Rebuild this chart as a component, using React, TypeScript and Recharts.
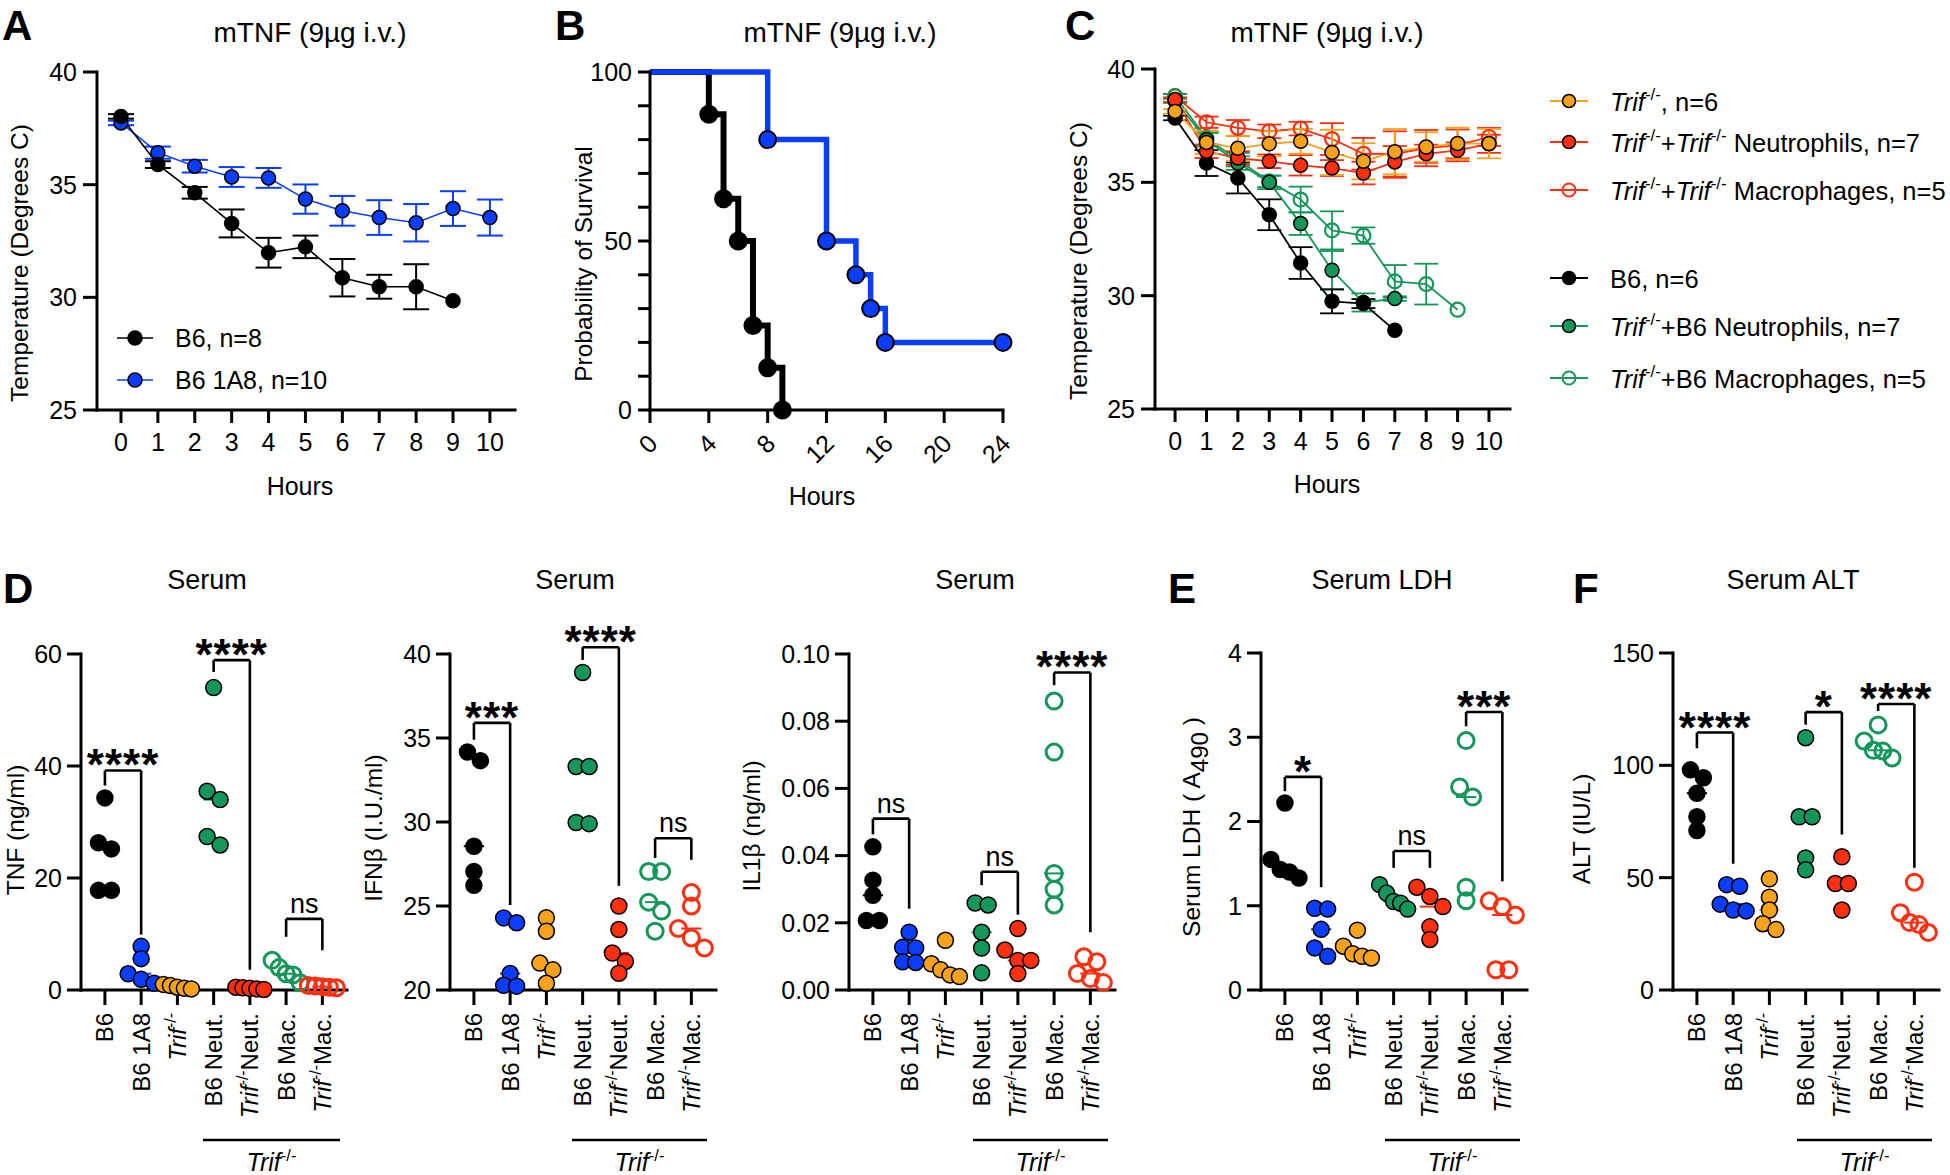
import React from "react";
import { LineChart, Line, XAxis, YAxis, ErrorBar, ScatterChart, Scatter, ReferenceLine } from "recharts";

const FONT = "'Liberation Sans', Arial, Helvetica, sans-serif";
const BLACK = "#000000";
const BLUE = "#0b3dff";
const ORANGE = "#f7a21b";
const RED = "#ff2f0f";
const GREEN = "#15965a";

// ---------- A: temperature, B6 vs B6 1A8 ----------
const hoursA = [0, 1, 2, 3, 4, 5, 6, 7, 8, 9, 10];
const b6TempA = [38.03, 35.89, 34.64, 33.28, 31.98, 32.24, 30.87, 30.47, 30.47, 29.85];
const b6ErrA = [0.1, 0.15, 0.26, 0.62, 0.66, 0.5, 0.83, 0.53, 1.0, 0];
const a8TempA = [37.74, 36.42, 35.82, 35.34, 35.3, 34.36, 33.84, 33.54, 33.31, 33.94, 33.54];
const a8ErrA = [0.1, 0.27, 0.28, 0.44, 0.44, 0.65, 0.66, 0.77, 0.83, 0.77, 0.8];

// ---------- B: survival ----------
const b6SurvHours = [0, 4, 5, 6, 7, 8, 9];
const b6Surv = [100, 87.5, 62.5, 50, 25, 12.5, 0];
const a8SurvHours = [0, 8, 12, 14, 15, 16, 24];
const a8Surv = [100, 80, 50, 40, 30, 20, 20];
const survTicksX = [0, 4, 8, 12, 16, 20, 24];
const survTicksY = [0, 10, 20, 30, 40, 50, 60, 70, 80, 90, 100];

// ---------- C: temperature, transfers ----------
const hoursC = [0, 1, 2, 3, 4, 5, 6, 7, 8, 9, 10];
const b6TempC = [37.84, 35.85, 35.19, 33.57, 31.44, 29.75, 29.65, 28.47];
const b6ErrC = [0.1, 0.57, 0.68, 0.68, 0.7, 0.53, 0.2, 0];
const b6NeutTempC = [38.6, 36.88, 35.85, 35.0, 33.18, 31.12, 29.7, 29.87];
const b6NeutErrC = [0.1, 0.3, 0.3, 0.3, 0.5, 0.85, 0.4, 0.1];
const b6MacTempC = [38.8, 36.95, 36.0, 35.04, 34.24, 32.88, 32.65, 30.63, 30.51, 29.38];
const b6MacErrC = [0.1, 0.3, 0.3, 0.25, 0.57, 0.84, 0.36, 0.72, 0.9, 0];
const trifTempC = [38.13, 36.76, 36.5, 36.7, 36.81, 36.32, 35.93, 36.35, 36.56, 36.71, 36.71];
const trifErrC = [0.1, 0.5, 0.55, 0.55, 0.55, 1.0, 0.8, 1.0, 0.65, 0.7, 0.65];
const trifNeutTempC = [38.65, 36.37, 36.07, 35.93, 35.75, 35.63, 35.41, 35.9, 36.26, 36.41, 36.7];
const trifNeutErrC = [0.1, 0.3, 0.3, 0.3, 0.45, 0.35, 0.5, 0.7, 0.4, 0.35, 0.4];
const trifMacTempC = [38.8, 37.65, 37.4, 37.25, 37.37, 36.91, 36.26, 36.25, 36.51, 36.63, 37.0];
const trifMacErrC = [0.1, 0.25, 0.35, 0.3, 0.3, 0.7, 0.7, 1.0, 0.8, 0.7, 0.4];

// ---------- D/E/F: dot plots ----------
const cats = ["B6", "B6 1A8", "Trif-/-", "B6 Neut.", "Trif-/-Neut.", "B6 Mac.", "Trif-/-Mac."];

const tnf = [
  [34.3, 26.3, 25.2, 17.8, 17.8],
  [7.8, 5.6, 2.9, 1.9, 1.2],
  [1.0, 0.8, 0.5, 0.3, 0.2],
  [54.0, 35.5, 34.0, 27.4, 25.9],
  [0.5, 0.4, 0.3, 0.2, 0.1],
  [5.3, 4.0, 2.9, 2.7, 1.3],
  [0.8, 0.7, 0.6, 0.5, 0.4],
];
const ifn = [
  [34.17, 33.65, 28.56, 27.05, 26.23],
  [24.29, 24.0, 20.98, 20.28, 20.23],
  [24.3, 23.5, 21.6, 21.2, 20.4],
  [38.9, 33.3, 33.3, 29.97, 29.9],
  [25.0, 23.6, 22.2, 21.7, 21.0],
  [27.05, 27.05, 25.23, 24.7, 23.5],
  [25.8, 25.0, 23.66, 23.1, 22.5],
];
const il1 = [
  [0.0426, 0.0327, 0.0282, 0.0207, 0.0207],
  [0.0172, 0.0127, 0.0125, 0.0084, 0.0082],
  [0.0148, 0.0078, 0.006, 0.0045, 0.004],
  [0.0259, 0.0253, 0.0172, 0.0125, 0.0051],
  [0.0183, 0.0119, 0.0088, 0.0088, 0.0049],
  [0.086, 0.0708, 0.0347, 0.03, 0.0253],
  [0.0099, 0.0084, 0.0049, 0.0034, 0.0022],
];
const ldh = [
  [2.22, 1.55, 1.43, 1.4, 1.33],
  [0.97, 0.96, 0.72, 0.5, 0.4],
  [0.71, 0.52, 0.43, 0.4, 0.38],
  [1.25, 1.15, 1.05, 1.03, 0.96],
  [1.22, 1.11, 0.99, 0.75, 0.6],
  [2.96, 2.41, 2.29, 1.22, 1.06],
  [1.06, 0.99, 0.89, 0.24, 0.24],
];
const alt = [
  [98.0, 94.5, 87.6, 77.1, 71.0],
  [46.9, 46.2, 38.2, 35.6, 35.2],
  [49.5, 41.3, 35.6, 29.5, 26.9],
  [112.3, 77.1, 77.1, 58.8, 53.5],
  [59.3, 47.4, 47.4, 35.6],
  [118, 110.8, 106.7, 106.4, 103.3],
  [48, 34.4, 30.0, 29.1, 25.6],
];

// [groupA, groupB, top, left leg end, right leg end, label]
type Bracket = [number, number, number, number, number, string];
const tnfBrackets: Bracket[] = [[0, 1, 39.2, 36.5, 9.9, "****"], [3, 4, 58.9, 56.8, 3.6, "****"], [5, 6, 12.7, 9.5, 7.1, "ns"]];
const ifnBrackets: Bracket[] = [[0, 1, 35.9, 34.9, 25.06, "***"], [3, 4, 40.4, 39.65, 26.2, "****"], [5, 6, 29.03, 27.86, 27.75, "ns"]];
const il1Brackets: Bracket[] = [[0, 1, 0.051, 0.0463, 0.0242, "ns"], [3, 4, 0.0352, 0.0312, 0.0224, "ns"], [5, 6, 0.0945, 0.0907, 0.0172, "****"]];
const ldhBrackets: Bracket[] = [[0, 1, 2.53, 2.36, 1.22, "*"], [3, 4, 1.65, 1.45, 1.45, "ns"], [5, 6, 3.3, 3.13, 1.29, "***"]];
const altBrackets: Bracket[] = [[0, 1, 114.6, 107.6, 56.2, "****"], [3, 4, 123.7, 118.1, 69.2, "*"], [5, 6, 127.3, 124.2, 54.4, "****"]];

const groupStyle = [
  { color: BLACK, open: false },
  { color: BLUE, open: false },
  { color: ORANGE, open: false },
  { color: GREEN, open: false },
  { color: RED, open: false },
  { color: GREEN, open: true },
  { color: RED, open: true },
];

// ---------- layout helpers ----------
const YW = 40;
const XH = 30;
const PL = 100;
const PT = 70;
type Plot = { x0: number; y0: number; x1: number; y1: number };

function frame(p: Plot, padR: number, padB: number) {
  return {
    style: { position: "absolute" as const, left: p.x0 - PL, top: p.y0 - PT },
    width: p.x1 - p.x0 + PL + padR,
    height: p.y1 - p.y0 + PT + padB,
    margin: { left: PL - YW, top: PT, right: padR, bottom: padB - XH },
  };
}

const axisLine = { stroke: BLACK, strokeWidth: 3, strokeLinecap: "square" as const };
const tickLine = { stroke: BLACK, strokeWidth: 3 };
const tickFont = { fontSize: 25, fill: BLACK };

function rich(text: string, size: number) {
  const parts = text.split("Trif-/-");
  const out: React.ReactNode[] = [];
  parts.forEach((p, i) => {
    if (i > 0) {
      out.push(<tspan key={"t" + i} fontStyle="italic">Trif</tspan>);
      out.push(<tspan key={"s" + i} fontSize={size * 0.66} dy={-size * 0.42}>-/-</tspan>);
      if (p) out.push(<tspan key={"r" + i} dy={size * 0.42}>{p}</tspan>);
    } else if (p) {
      out.push(<tspan key={"p" + i}>{p}</tspan>);
    }
  });
  return out;
}

const median = (v: number[]) => {
  const s = [...v].sort((a, b) => a - b);
  const m = Math.floor(s.length / 2);
  return s.length % 2 ? s[m] : (s[m - 1] + s[m]) / 2;
};

// simple beeswarm: points closer than ~11px vertically share a row and spread sideways
function swarm(vals: number[], pxPerUnit: number, catPx: number) {
  const order = vals.map((_, i) => i).sort((a, b) => vals[b] - vals[a]);
  const offs = new Array(vals.length).fill(0);
  let row: number[] = [];
  const flush = () => {
    const n = row.length;
    const step = n > 1 ? Math.min(13, 28 / (n - 1)) : 0;
    row.forEach((k, j) => {
      offs[k] = ((j - (n - 1) / 2) * step) / catPx;
    });
    row = [];
  };
  order.forEach((k) => {
    if (row.length && (vals[row[row.length - 1]] - vals[k]) * pxPerUnit >= 11) flush();
    row.push(k);
  });
  flush();
  return offs;
}

function CatTick(props: any) {
  const { x, y, payload } = props;
  const label = cats[payload.value] ?? "";
  return (
    <text transform={`translate(${x},${y}) rotate(-90)`} textAnchor="end" dy="0.35em" fontSize={24} fill={BLACK}>
      {rich(label, 24)}
    </text>
  );
}

function SlantTick(props: any) {
  const { x, y, payload } = props;
  return (
    <text transform={`translate(${x + 3},${y + 6}) rotate(-45)`} textAnchor="end" dy="0.35em" fontSize={25} fill={BLACK}>
      {payload.value}
    </text>
  );
}

function BracketText(props: any) {
  const vb = props.viewBox || {};
  const x0 = vb.x ?? vb.x1 ?? 0;
  const w = vb.width ?? (vb.x2 != null ? vb.x2 - vb.x1 : 0);
  const y = vb.y ?? vb.y1 ?? 0;
  const stars = props.text !== "ns";
  return (
    <text
      x={x0 + w / 2}
      y={stars ? y + 10 : y - 6}
      textAnchor="middle"
      fontSize={stars ? 44 : 27}
      fontWeight={stars ? 700 : 400}
      letterSpacing={stars ? 1 : 0}
      fill={BLACK}
    >
      {props.text}
    </text>
  );
}

const toSeries = (hours: number[], temps: number[], errs: number[]) =>
  temps.map((t, i) => ({ h: hours[i], t, e: errs[i] }));

// ---------- panels ----------
function PanelA() {
  const f = frame({ x0: 97, y0: 72, x1: 515, y1: 410 }, 30, 60);
  const b6 = toSeries(hoursA, b6TempA, b6ErrA);
  const a8 = toSeries(hoursA, a8TempA, a8ErrA);
  return (
    <div style={f.style}>
      <LineChart width={f.width} height={f.height} margin={f.margin}>
        <XAxis type="number" dataKey="h" domain={[-0.65, 10.68]} ticks={hoursA} interval={0} height={XH}
          axisLine={axisLine} tickLine={tickLine} tick={tickFont} tickSize={13} tickMargin={10} />
        <YAxis type="number" domain={[25, 40]} ticks={[25, 30, 35, 40]} interval={0} width={YW}
          axisLine={axisLine} tickLine={tickLine} tick={tickFont} tickSize={14} tickMargin={6} />
        <Line data={a8} dataKey="t" stroke={BLUE} strokeWidth={1.6} isAnimationActive={false} activeDot={false}
          dot={{ r: 7, fill: BLUE, stroke: BLACK, strokeWidth: 1.5 }}>
          <ErrorBar dataKey="e" width={13} strokeWidth={2} stroke={BLUE} direction="y" />
        </Line>
        <Line data={b6} dataKey="t" stroke={BLACK} strokeWidth={1.6} isAnimationActive={false} activeDot={false}
          dot={{ r: 7, fill: BLACK, stroke: BLACK, strokeWidth: 1.5 }}>
          <ErrorBar dataKey="e" width={13} strokeWidth={2} stroke={BLACK} direction="y" />
        </Line>
      </LineChart>
    </div>
  );
}

function survDot(fill: string) {
  return (p: any) =>
    p.index === 0 ? (
      <g key={`s${p.index}`} />
    ) : (
      <circle key={`s${p.index}`} cx={p.cx} cy={p.cy} r={8.5} fill={fill} stroke={BLACK} strokeWidth={2} />
    );
}

function PanelB() {
  const f = frame({ x0: 650, y0: 72, x1: 1003, y1: 410 }, 30, 70);
  const b6 = b6SurvHours.map((h, i) => ({ h, s: b6Surv[i] }));
  const a8 = a8SurvHours.map((h, i) => ({ h, s: a8Surv[i] }));
  return (
    <div style={f.style}>
      <LineChart width={f.width} height={f.height} margin={f.margin}>
        <XAxis type="number" dataKey="h" domain={[0, 24]} ticks={survTicksX} interval={0} height={XH}
          axisLine={axisLine} tickLine={tickLine} tick={<SlantTick />} tickSize={13} tickMargin={10} />
        <YAxis type="number" domain={[0, 100]} ticks={survTicksY} interval={0} width={YW}
          tickFormatter={(v: number) => (v % 50 === 0 ? String(v) : "")}
          axisLine={axisLine} tickLine={tickLine} tick={tickFont} tickSize={12} tickMargin={6} />
        <Line data={b6} dataKey="s" type="stepAfter" stroke={BLACK} strokeWidth={6} isAnimationActive={false}
          activeDot={false} dot={survDot(BLACK)} />
        <Line data={a8} dataKey="s" type="stepAfter" stroke={BLUE} strokeWidth={5.5} isAnimationActive={false}
          activeDot={false} dot={survDot(BLUE)} />
      </LineChart>
    </div>
  );
}

const seriesC = [
  { temps: trifMacTempC, errs: trifMacErrC, color: RED, open: true },
  { temps: b6MacTempC, errs: b6MacErrC, color: GREEN, open: true },
  { temps: b6NeutTempC, errs: b6NeutErrC, color: GREEN, open: false },
  { temps: b6TempC, errs: b6ErrC, color: BLACK, open: false },
  { temps: trifNeutTempC, errs: trifNeutErrC, color: RED, open: false },
  { temps: trifTempC, errs: trifErrC, color: ORANGE, open: false },
];

function PanelC() {
  const f = frame({ x0: 1155, y0: 69, x1: 1510, y1: 409 }, 30, 60);
  return (
    <div style={f.style}>
      <LineChart width={f.width} height={f.height} margin={f.margin}>
        <XAxis type="number" dataKey="h" domain={[-0.64, 10.67]} ticks={hoursC} interval={0} height={XH}
          axisLine={axisLine} tickLine={tickLine} tick={tickFont} tickSize={13} tickMargin={10} />
        <YAxis type="number" domain={[25, 40]} ticks={[25, 30, 35, 40]} interval={0} width={YW}
          axisLine={axisLine} tickLine={tickLine} tick={tickFont} tickSize={14} tickMargin={6} />
        {seriesC.map((s, i) => (
          <Line key={i} data={toSeries(hoursC, s.temps, s.errs)} dataKey="t" stroke={s.color} strokeWidth={1.8}
            isAnimationActive={false} activeDot={false}
            dot={s.open
              ? { r: 7, fill: "none", stroke: s.color, strokeWidth: 2.2 }
              : { r: 7, fill: s.color, stroke: BLACK, strokeWidth: 1.5 }}>
            <ErrorBar dataKey="e" width={12} strokeWidth={1.8} stroke={s.color} direction="y" />
          </Line>
        ))}
      </LineChart>
    </div>
  );
}

const XD: [number, number] = [-0.66, 6.68];
const catTicks = [0, 1, 2, 3, 4, 5, 6];

function DotPanel(props: {
  plot: Plot;
  groups: number[][];
  yDomain: [number, number];
  yTicks: number[];
  fmt: (v: number) => string;
  brackets: Bracket[];
}) {
  const { plot, groups, yDomain, yTicks, fmt, brackets } = props;
  const f = frame(plot, 30, 190);
  const pxY = (plot.y1 - plot.y0) / (yDomain[1] - yDomain[0]);
  const catPx = (plot.x1 - plot.x0) / (XD[1] - XD[0]);
  const segStyle = { stroke: BLACK, strokeWidth: 2.6, ifOverflow: "visible" as const };
  return (
    <div style={f.style}>
      <ScatterChart width={f.width} height={f.height} margin={f.margin}>
        <XAxis type="number" dataKey="x" domain={XD} ticks={catTicks} interval={0} height={XH}
          axisLine={axisLine} tickLine={tickLine} tick={<CatTick />} tickSize={15} tickMargin={8} />
        <YAxis type="number" dataKey="y" domain={yDomain} ticks={yTicks} interval={0} width={YW} tickFormatter={fmt}
          axisLine={axisLine} tickLine={tickLine} tick={tickFont} tickSize={14} tickMargin={5} />
        {groups.map((g, gi) => (
          <ReferenceLine key={"m" + gi} ifOverflow="visible" stroke={groupStyle[gi].color} strokeWidth={2}
            segment={[{ x: gi - 0.28, y: median(g) }, { x: gi + 0.28, y: median(g) }]} />
        ))}
        {groups.map((g, gi) => {
          const offs = swarm(g, pxY, catPx);
          const data = g.map((v, k) => ({ x: gi + offs[k], y: v }));
          const st = groupStyle[gi];
          return (
            <Scatter key={gi} data={data} isAnimationActive={false}
              shape={(p: any) => (
                <circle cx={p.cx} cy={p.cy} r={8} fill={st.open ? "none" : st.color}
                  stroke={st.open ? st.color : BLACK} strokeWidth={st.open ? 3 : 1.5} />
              )} />
          );
        })}
        {brackets.map((b, bi) => [
          <ReferenceLine key={"bt" + bi} {...segStyle} segment={[{ x: b[0], y: b[2] }, { x: b[1], y: b[2] }]}
            label={<BracketText text={b[5]} />} />,
          <ReferenceLine key={"bl" + bi} {...segStyle} segment={[{ x: b[0], y: b[2] }, { x: b[0], y: b[3] }]} />,
          <ReferenceLine key={"br" + bi} {...segStyle} segment={[{ x: b[1], y: b[2] }, { x: b[1], y: b[4] }]} />,
        ])}
      </ScatterChart>
    </div>
  );
}

// ---------- text overlay ----------
function Rot(props: { x: number; y: number; children: React.ReactNode; size?: number }) {
  return (
    <text transform={`translate(${props.x},${props.y}) rotate(-90)`} textAnchor="middle" fontSize={props.size ?? 24.5} fill={BLACK}>
      {props.children}
    </text>
  );
}

function Overlay() {
  const letters: [string, number, number][] = [["A", 2, 40], ["B", 555, 40], ["C", 1065, 40], ["D", 3, 603], ["E", 1168, 603], ["F", 1573, 603]];
  const titles: [string, number, number, number][] = [
    ["mTNF (9µg i.v.)", 310, 42, 28], ["mTNF (9µg i.v.)", 840, 42, 28], ["mTNF (9µg i.v.)", 1327, 42, 28],
    ["Serum", 207, 589, 27], ["Serum", 575, 589, 27], ["Serum", 975, 589, 27], ["Serum LDH", 1382, 589, 27], ["Serum ALT", 1793, 589, 27],
  ];
  const hours: [number, number][] = [[300, 495], [822, 505], [1327, 493]];
  const groupLines: [number, number][] = [[203, 340], [572, 707], [973, 1108], [1385, 1520], [1797, 1932]];
  const legA = [
    { y: 338, color: BLACK, text: "B6, n=8" },
    { y: 380, color: BLUE, text: "B6 1A8, n=10" },
  ];
  const legC = [
    { y: 101, color: ORANGE, fill: ORANGE, text: "Trif-/-, n=6" },
    { y: 142, color: RED, fill: RED, text: "Trif-/-+Trif-/- Neutrophils, n=7" },
    { y: 190, color: RED, fill: "none", text: "Trif-/-+Trif-/- Macrophages, n=5" },
    { y: 278, color: BLACK, fill: BLACK, text: "B6, n=6" },
    { y: 326, color: GREEN, fill: GREEN, text: "Trif-/-+B6 Neutrophils, n=7" },
    { y: 378, color: GREEN, fill: "none", text: "Trif-/-+B6 Macrophages, n=5" },
  ];
  return (
    <svg width={1950} height={1175} style={{ position: "absolute", left: 0, top: 0, pointerEvents: "none" }}>
      {letters.map(([t, x, y]) => (
        <text key={t} x={x} y={y} fontSize={42} fontWeight={700} fill={BLACK}>{t}</text>
      ))}
      {titles.map(([t, x, y, s], i) => (
        <text key={"ti" + i} x={x} y={y} fontSize={s} textAnchor="middle" fill={BLACK}>{t}</text>
      ))}
      {hours.map(([x, y], i) => (
        <text key={"h" + i} x={x} y={y} fontSize={25} textAnchor="middle" fill={BLACK}>Hours</text>
      ))}
      <Rot x={28} y={263}>Temperature (Degrees C)</Rot>
      <Rot x={592} y={264}>Probability of Survival</Rot>
      <Rot x={1087} y={261}>Temperature (Degrees C)</Rot>
      <Rot x={24} y={830}>TNF (ng/ml)</Rot>
      <Rot x={382} y={828}>IFNβ (I.U./ml)</Rot>
      <Rot x={760} y={826}>IL1β  (ng/ml)</Rot>
      <Rot x={1200} y={827}>
        Serum LDH ( A<tspan fontSize={24} dy={8}>490</tspan><tspan dy={-8}> )</tspan>
      </Rot>
      <Rot x={1590} y={829}>ALT (IU/L)</Rot>

      {groupLines.map(([a, b], i) => (
        <g key={"g" + i}>
          <line x1={a} x2={b} y1={1140} y2={1140} stroke={BLACK} strokeWidth={2.5} />
          <text x={(a + b) / 2} y={1171} fontSize={25} textAnchor="middle" fill={BLACK}>{rich("Trif-/-", 25)}</text>
        </g>
      ))}

      {legA.map((l, i) => (
        <g key={"la" + i}>
          <line x1={117} x2={153} y1={l.y} y2={l.y} stroke={l.color} strokeWidth={1.6} />
          <circle cx={135} cy={l.y} r={7} fill={l.color} stroke={BLACK} strokeWidth={1.5} />
          <text x={175} y={l.y + 9} fontSize={25} fill={BLACK}>{l.text}</text>
        </g>
      ))}
      {legC.map((l, i) => (
        <g key={"lc" + i}>
          <line x1={1550} x2={1588} y1={l.y} y2={l.y} stroke={l.color} strokeWidth={1.8} />
          <circle cx={1569} cy={l.y} r={6.5} fill={l.fill} stroke={l.fill === "none" ? l.color : BLACK}
            strokeWidth={l.fill === "none" ? 2 : 1.5} />
          <text x={1610} y={l.y + 10} fontSize={25.5} fill={BLACK}>{rich(l.text, 25.5)}</text>
        </g>
      ))}
    </svg>
  );
}

export default function App() {
  return (
    <div style={{ position: "absolute", left: 0, top: 0, width: 1950, height: 1175, background: "#fff", fontFamily: FONT, overflow: "hidden" }}>
      <PanelA />
      <PanelB />
      <PanelC />
      <DotPanel plot={{ x0: 81, y0: 654, x1: 347, y1: 990 }} groups={tnf} yDomain={[0, 60]} yTicks={[0, 20, 40, 60]}
        fmt={(v) => String(v)} brackets={tnfBrackets} />
      <DotPanel plot={{ x0: 450, y0: 654, x1: 716, y1: 990 }} groups={ifn} yDomain={[20, 40]} yTicks={[20, 25, 30, 35, 40]}
        fmt={(v) => String(v)} brackets={ifnBrackets} />
      <DotPanel plot={{ x0: 849, y0: 654, x1: 1115, y1: 990 }} groups={il1} yDomain={[0, 0.1]} yTicks={[0, 0.02, 0.04, 0.06, 0.08, 0.1]}
        fmt={(v) => v.toFixed(2)} brackets={il1Brackets} />
      <DotPanel plot={{ x0: 1261, y0: 653, x1: 1527, y1: 990 }} groups={ldh} yDomain={[0, 4]} yTicks={[0, 1, 2, 3, 4]}
        fmt={(v) => String(v)} brackets={ldhBrackets} />
      <DotPanel plot={{ x0: 1673, y0: 653, x1: 1939, y1: 990 }} groups={alt} yDomain={[0, 150]} yTicks={[0, 50, 100, 150]}
        fmt={(v) => String(v)} brackets={altBrackets} />
      <Overlay />
    </div>
  );
}
